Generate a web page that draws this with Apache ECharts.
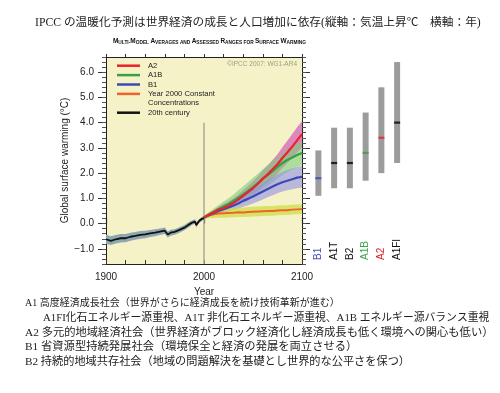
<!DOCTYPE html>
<html><head><meta charset="utf-8">
<script src="https://cdn.jsdelivr.net/npm/echarts@6/dist/echarts.min.js"></script>
<style>html,body{margin:0;padding:0;background:#fff;}#c{width:500px;height:393px;}</style>
</head><body><div id="c"></div>
<script>
// ---- data ----
const histYears = [1900,1905,1910,1915,1920,1925,1930,1935,1940,1945,1950,1955,1960,1963,1966,1970,1975,1980,1985,1988,1991,1992,1995,1998,2000];
const histMean  = [-0.62,-0.68,-0.62,-0.58,-0.58,-0.52,-0.49,-0.45,-0.43,-0.39,-0.36,-0.32,-0.28,-0.43,-0.36,-0.33,-0.25,-0.16,-0.03,0.04,0.08,-0.06,0.10,0.19,0.22];
const histLow   = [-0.80,-0.85,-0.79,-0.75,-0.74,-0.68,-0.64,-0.60,-0.58,-0.53,-0.50,-0.45,-0.41,-0.55,-0.48,-0.44,-0.36,-0.26,-0.13,-0.05,-0.01,-0.15,0.02,0.11,0.15];
const histHigh  = [-0.44,-0.50,-0.45,-0.41,-0.41,-0.36,-0.33,-0.29,-0.28,-0.25,-0.22,-0.19,-0.15,-0.31,-0.24,-0.22,-0.14,-0.06,0.07,0.13,0.17,0.03,0.18,0.27,0.29];

const projYears = [2000,2005,2010,2015,2020,2025,2030,2035,2040,2045,2050,2055,2060,2065,2070,2075,2080,2085,2090,2095,2100];
const a2Mean  = [0.24,0.35,0.45,0.55,0.62,0.70,0.82,0.95,1.10,1.25,1.40,1.58,1.78,1.95,2.15,2.35,2.60,2.82,3.05,3.30,3.55];
const a2High  = [0.30,0.42,0.55,0.67,0.78,0.88,1.00,1.15,1.32,1.50,1.68,1.88,2.10,2.30,2.52,2.75,3.02,3.28,3.55,3.82,4.05];
const a2Low   = [0.18,0.28,0.37,0.45,0.50,0.56,0.66,0.77,0.90,1.02,1.15,1.30,1.47,1.62,1.80,1.98,2.20,2.40,2.60,2.82,3.02];
const a1bMean = [0.24,0.36,0.47,0.58,0.68,0.78,0.90,1.03,1.16,1.30,1.45,1.60,1.78,1.92,2.08,2.25,2.40,2.52,2.62,2.72,2.80];
const a1bHigh = [0.30,0.45,0.60,0.74,0.88,1.00,1.15,1.32,1.48,1.65,1.82,1.98,2.15,2.32,2.48,2.64,2.80,2.93,3.05,3.15,3.25];
const a1bLow  = [0.18,0.28,0.36,0.44,0.52,0.60,0.68,0.78,0.88,0.98,1.10,1.22,1.36,1.48,1.62,1.78,1.92,2.04,2.14,2.24,2.32];
const b1Mean  = [0.24,0.33,0.42,0.50,0.57,0.64,0.72,0.80,0.90,0.98,1.07,1.17,1.27,1.37,1.47,1.56,1.64,1.70,1.76,1.82,1.85];
const b1High  = [0.30,0.42,0.53,0.63,0.72,0.82,0.92,1.02,1.14,1.25,1.36,1.48,1.60,1.72,1.84,1.95,2.04,2.12,2.18,2.24,2.28];
const b1Low   = [0.18,0.25,0.32,0.38,0.43,0.48,0.54,0.60,0.67,0.73,0.80,0.88,0.96,1.04,1.12,1.20,1.27,1.32,1.36,1.40,1.42];
const constMean = [0.24,0.33,0.37,0.40,0.41,0.42,0.43,0.45,0.44,0.46,0.47,0.48,0.49,0.50,0.50,0.52,0.53,0.53,0.55,0.56,0.57];
const constHigh = [0.30,0.46,0.54,0.58,0.60,0.62,0.63,0.65,0.64,0.66,0.67,0.68,0.69,0.70,0.70,0.72,0.73,0.73,0.75,0.76,0.77];
const constLow  = [0.18,0.22,0.22,0.23,0.23,0.24,0.25,0.26,0.26,0.27,0.28,0.29,0.30,0.31,0.31,0.33,0.34,0.34,0.36,0.37,0.38];

const barCats = ['B1','A1T','B2','A1B','A2','A1FI'];
const barLow  = [1.1,1.4,1.4,1.7,2.0,2.4];
const barHigh = [2.9,3.8,3.8,4.4,5.4,6.4];
const barBest = [1.8,2.4,2.4,2.8,3.4,4.0];

const yTickValues = [-1,0,1,2,3,4,5,6];
const xLabelValues = [1900,2000,2100];
const markerYear = 2000;
const markerTop = 4.0;

const titleText = 'IPCC の温暖化予測は世界経済の成長と人口増加に依存(縦軸：気温上昇℃　横軸：年)';
const noteLines = [
  'A1 高度経済成長社会（世界がさらに経済成長を続け技術革新が進む）',
  'A1FI化石エネルギー源重視、A1T 非化石エネルギー源重視、A1B エネルギー源バランス重視',
  'A2 多元的地域経済社会（世界経済がブロック経済化し経済成長も低く環境への関心も低い）',
  'B1 省資源型持続発展社会（環境保全と経済の発展を両立させる）',
  'B2 持続的地域共存社会（地域の問題解決を基礎とし世界的な公平さを保つ）'
];

// ---- styles ----
const C = {red:'#e8242a', green:'#3a9e45', blue:'#3d48b5', orange:'#f0622a', black:'#111'};
const catColors = ['#4a50c4','#111','#111','#3ea54a','#e42222','#111'];
const medColors = ['#3d48b5','#000','#000','#3a9e45','#e8242a','#000'];
const YMIN = -1.6, YMAX = 6.6;
const SANS = '"Liberation Sans", Arial, sans-serif';
const JP = '"Liberation Serif", "Noto Sans CJK JP", serif';

const zip = (xs, ys) => xs.map((x, i) => [x, ys[i]]);
const diff = (hi, lo) => hi.map((v, i) => +(v - lo[i]).toFixed(3));

function band(years, lo, hi, color, z) {
  return {
    type:'custom', xAxisIndex:0, yAxisIndex:0, silent:true, z:z,
    data: years.map((y, i) => [y, lo[i], hi[i]]),
    encode:{x:0, y:[1, 2]},
    renderItem:(params, api) => {
      if (params.dataIndex !== 0) return null;
      const top = years.map((y, i) => api.coord([y, hi[i]]));
      const bot = years.map((y, i) => api.coord([y, lo[i]])).reverse();
      return {type:'polygon', shape:{points: top.concat(bot)}, style:{fill: color}};
    }
  };
}
function meanLine(name, years, vals, color, w) {
  return {type:'line', name:name, xAxisIndex:0, yAxisIndex:0, data:zip(years, vals), symbol:'none',
    lineStyle:{color:color, width:w}, itemStyle:{color:color}, z:4};
}

const chart = echarts.init(document.getElementById('c'), null, {renderer:'canvas'});
const axisLineBlack = {show:true, onZero:false, lineStyle:{color:'#222', width:1}};

chart.setOption({
  animation:false,
  backgroundColor:'#ffffff',
  grid:[
    {left:106, top:57, width:196, height:207, show:true, backgroundColor:'#f6f2c8', borderWidth:0},
    {left:310.5, top:57, width:94.5, height:207, show:false}
  ],
  xAxis:[
    {type:'value', gridIndex:0, min:1900, max:2100, interval:20, position:'bottom',
     axisLine:axisLineBlack, splitLine:{show:false},
     axisTick:{inside:true, length:4, lineStyle:{color:'#333'}},
     axisLabel:{customValues:xLabelValues, formatter:v => String(v), fontSize:10, fontFamily:SANS, color:'#222', margin:8},
     name:'Year', nameLocation:'middle', nameGap:19, nameTextStyle:{fontSize:10, fontFamily:SANS, color:'#222'}},
    {type:'value', gridIndex:0, min:1900, max:2100, interval:20, position:'top',
     axisLine:axisLineBlack, splitLine:{show:false},
     axisTick:{length:3, lineStyle:{color:'#333'}}, axisLabel:{show:false}},
    {type:'value', gridIndex:0, min:1900, max:2100, interval:20, position:'top',
     axisLine:{show:false}, splitLine:{show:false},
     axisTick:{customValues:xLabelValues, length:6, lineStyle:{color:'#222', width:1.2}}, axisLabel:{show:false}},
    {type:'category', gridIndex:1, data:barCats, position:'bottom',
     axisLine:{show:false}, axisTick:{show:false}, splitLine:{show:false},
     axisLabel:{inside:true, rotate:90, margin:4, fontSize:10, fontFamily:SANS,
       color:(v, i) => catColors[barCats.indexOf(v)]}}
  ],
  yAxis:[
    {type:'value', gridIndex:0, min:YMIN, max:YMAX, position:'left',
     axisLine:axisLineBlack, splitLine:{show:false},
     axisTick:{customValues:yTickValues, length:8, lineStyle:{color:'#333'}},
     axisLabel:{customValues:yTickValues, fontSize:10, fontFamily:SANS, color:'#222', margin:12,
       formatter:v => (v < 0 ? '\u2212' : '') + Math.abs(v).toFixed(1)},
     name:'Global surface warming (°C)', nameLocation:'middle', nameGap:30, nameRotate:90,
     nameTextStyle:{fontSize:10, fontFamily:SANS, color:'#222'}},
    {type:'value', gridIndex:0, min:YMIN, max:YMAX, interval:0.2, position:'left',
     axisLine:{show:false}, splitLine:{show:false}, axisLabel:{show:false},
     axisTick:{length:4, lineStyle:{color:'#555'}}},
    {type:'value', gridIndex:0, min:YMIN, max:YMAX, position:'right',
     axisLine:axisLineBlack, splitLine:{show:false}, axisLabel:{show:false},
     axisTick:{customValues:yTickValues, length:8, lineStyle:{color:'#333'}}},
    {type:'value', gridIndex:0, min:YMIN, max:YMAX, interval:0.2, position:'right',
     axisLine:{show:false}, splitLine:{show:false}, axisLabel:{show:false},
     axisTick:{length:4, lineStyle:{color:'#555'}}},
    {type:'value', gridIndex:1, min:YMIN, max:YMAX, show:false}
  ],
  legend:{
    left:117, top:61.2, orient:'vertical', padding:0, itemWidth:23, itemHeight:2.5, itemGap:0.4,
    icon:'rect', selectedMode:false,
    textStyle:{fontSize:7.6, lineHeight:9, color:'#222', fontFamily:SANS, padding:[0,0,0,3]},
    data:['A2','A1B','B1','Year 2000 Constant',
      {name:'Concentrations', itemStyle:{color:'rgba(0,0,0,0)', opacity:0}}, '20th century']
  },
  graphic:[
    {type:'text', x:35, y:22.7, style:{text:titleText, font:'11.7px ' + JP, fill:'#222', verticalAlign:'middle'}},
    {type:'text', x:113, y:41, scaleX:0.86, style:{
      text:'{b|M}{s|ULTI-}{b|M}{s|ODEL }{b|A}{s|VERAGES AND }{b|A}{s|SSESSED }{b|R}{s|ANGES FOR }{b|S}{s|URFACE }{b|W}{s|ARMING}',
      verticalAlign:'middle', fill:'#111',
      rich:{b:{font:'bold 7.5px ' + SANS, fill:'#111', verticalAlign:'bottom'},
            s:{font:'bold 5.6px ' + SANS, fill:'#111', verticalAlign:'bottom'}}}},
    {type:'text', x:297, y:64, style:{text:'©IPCC 2007: WG1-AR4', font:'6.5px ' + SANS, fill:'#9c9c88', align:'right', verticalAlign:'middle'}},
    {type:'text', x:25, y:303.3, style:{text:noteLines[0], font:'10px ' + JP, fill:'#222', verticalAlign:'middle'}},
    {type:'text', x:43, y:318.3, style:{text:noteLines[1], font:'10.8px ' + JP, fill:'#222', verticalAlign:'middle'}},
    {type:'text', x:25, y:332.8, style:{text:noteLines[2], font:'11.3px ' + JP, fill:'#222', verticalAlign:'middle'}},
    {type:'text', x:25, y:347.3, style:{text:noteLines[3], font:'11.3px ' + JP, fill:'#222', verticalAlign:'middle'}},
    {type:'text', x:25, y:361.8, style:{text:noteLines[4], font:'11.2px ' + JP, fill:'#222', verticalAlign:'middle'}}
  ],
  series:[
    {type:'line', xAxisIndex:0, yAxisIndex:0, data:[[markerYear, YMIN],[markerYear, markerTop]], symbol:'none', silent:true,
     lineStyle:{color:'#a8a898', width:1.5}, z:1},
    band(histYears, histLow, histHigh, '#8ea7b0', 2),
    band(projYears, a2Low, a2High, 'rgba(212,100,185,0.75)', 2),
    band(projYears, a1bLow, a1bHigh, 'rgba(125,205,125,0.6)', 2),
    band(projYears, b1Low, b1High, 'rgba(145,145,232,0.6)', 2),
    band(projYears, constLow, constHigh, 'rgba(205,222,70,0.75)', 2),
    meanLine('Year 2000 Constant', projYears, constMean, C.orange, 1.8),
    meanLine('B1', projYears, b1Mean, C.blue, 2.2),
    meanLine('A1B', projYears, a1bMean, C.green, 2.2),
    meanLine('A2', projYears, a2Mean, C.red, 2.2),
    meanLine('20th century', histYears, histMean, C.black, 1.8),
    {type:'line', name:'Concentrations', xAxisIndex:0, yAxisIndex:0, data:[], itemStyle:{color:'rgba(0,0,0,0)'}},
    {type:'bar', xAxisIndex:3, yAxisIndex:4, stack:'range', data:barLow, barWidth:6,
     itemStyle:{color:'rgba(0,0,0,0)'}, silent:true},
    {type:'bar', xAxisIndex:3, yAxisIndex:4, stack:'range', data:diff(barHigh, barLow), barWidth:6,
     itemStyle:{color:'#9c9c9c'}, silent:true},
    {type:'scatter', xAxisIndex:3, yAxisIndex:4, symbol:'rect', symbolSize:[6,2.2], z:5,
     data:barCats.map((c, i) => ({value:[c, barBest[i]], itemStyle:{color:medColors[i]}}))}
  ]
});
</script>
</body></html>
